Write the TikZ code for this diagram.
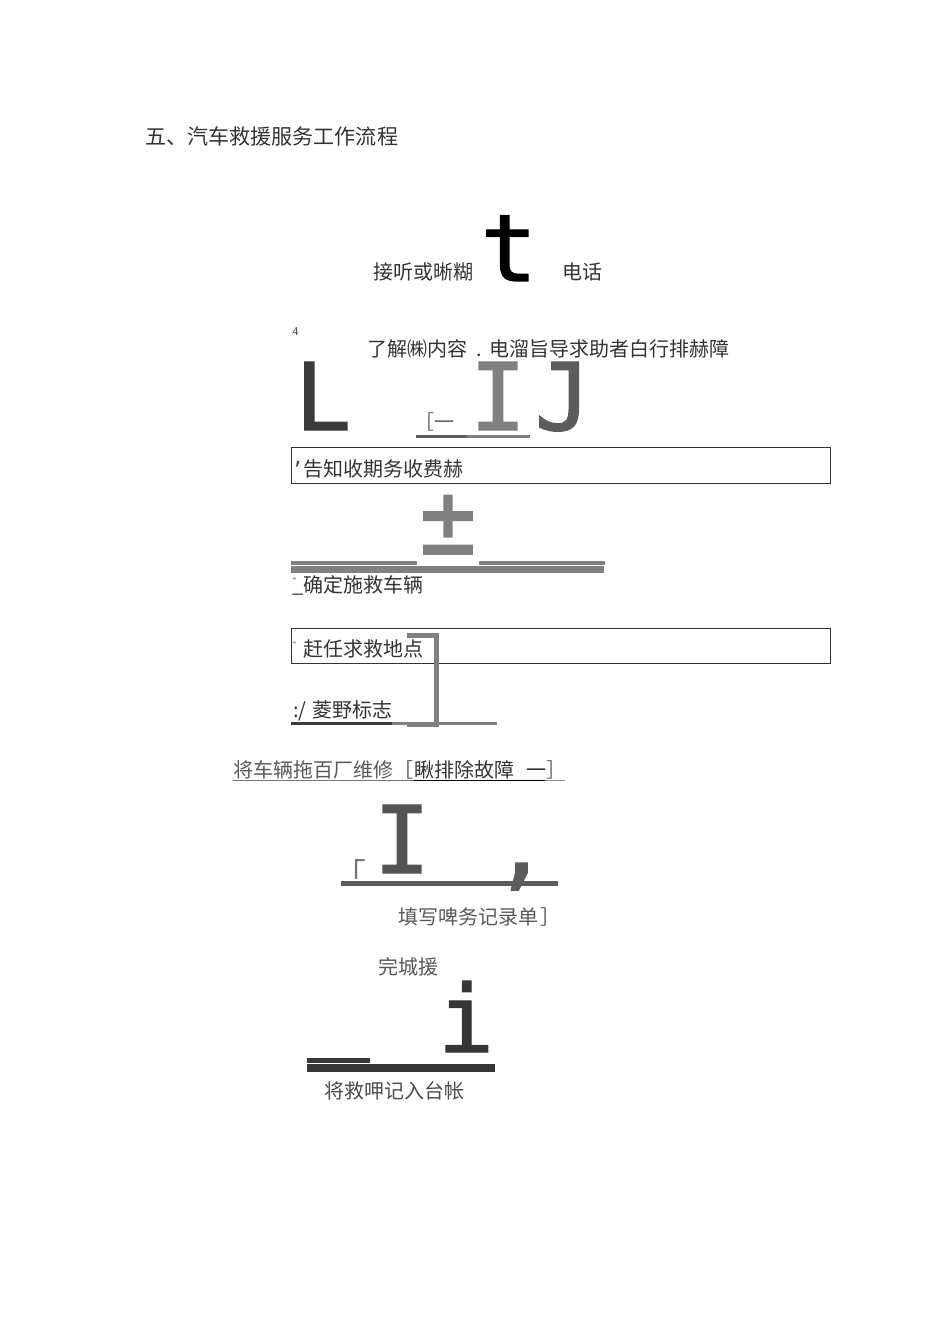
\documentclass[tikz,border=0pt]{standalone}
\usepackage{fontspec}
\setmainfont{Noto Sans CJK SC}
\newfontfamily\bigmono[FakeBold=1.5]{DejaVu Sans Mono}
\newfontfamily\markmono{DejaVu Sans Mono}
\definecolor{inkA}{gray}{0.23}
\definecolor{inkB}{gray}{0.50}
\definecolor{inkC}{gray}{0.36}
\definecolor{inkD}{gray}{0.21}
\tikzset{
	label text/.style={font=\fontsize{15}{15}\selectfont,anchor=base west,inner sep=0pt,text=#1},
	label text/.default=black!80,
	big glyph/.style={font=\bigmono\fontsize{70}{70}\selectfont,anchor=base,inner sep=0pt,text=#1},
	mark text/.style={font=\markmono\fontsize{8}{8}\selectfont,anchor=base west,inner sep=0pt,text=black!70},
	frame box/.style={draw=black!80,line width=0.75pt,minimum width=404.25pt,anchor=north west,inner sep=0pt}
}
\begin{document}
\begin{tikzpicture}[x=0.75pt,y=-0.75pt]
		\useasboundingbox (0,0) rectangle (950,1344);
		\node[label text,font=\fontsize{15.8}{15.8}\selectfont] (title) at (145,145) {五、汽车救援服务工作流程};
		% answering the call
		\node[label text] (answer) at (373,280) {接听或晰糊};
		\node[big glyph=black] (t-glyph) at (509,281) {t};
		\node[label text] (phone) at (562,280) {电话};
		% asking about the fault
		\node[mark text] (tick) at (292,335) {4};
		\node[label text] (ask) at (367,356) {了解㈱内容};
		\node[label text] (dot) at (476,356) {.};
		\node[label text] (advice) at (489,356) {电溜旨导求助者白行排赫障};
		\node[big glyph=inkA] (l-glyph) at (323,430) {L};
		\node[big glyph=inkB] (i-glyph) at (498,430) {I};
		\node[big glyph=inkC] (j-glyph) at (563,430) {J};
		\node[label text=black!60] (bracket) at (414,429) {［一};
		\fill[inkC] (416,435) rectangle (467,438);
		\fill[inkB] (467,435) rectangle (530,438);
		% fee notice
		\node[frame box,minimum height=27pt] (fee-box) at (291,447) {};
		\node[mark text,font=\markmono\fontsize{15}{15}\selectfont] (quote) at (291,476) {’};
		\node[label text] (fee) at (303,476) {告知收期务收费赫};
		\node[big glyph=inkB,transform shape,yscale=1.1] (pm-glyph) at (448,554) {±};
		\foreach \a/\b in {291/353,353/417,479/542,542/605}{
		\fill[inkB] (\a,561) rectangle (\b,565);
		}
		\fill[inkB] (291,566) rectangle (604,573);
		% choosing the vehicle
		\node[mark text] (hat-a) at (291,586) {ˆ};
		\node[label text,text height=1pt] (under) at (292,592) {\_};
		\node[label text] (vehicle) at (303,592) {确定施救车辆};
		% going to the site
		\node[frame box,minimum height=26.25pt] (site-box) at (291,628) {};
		\node[mark text] (hat-b) at (291,650) {ˆ};
		\node[label text] (site) at (303,656) {赶任求救地点};
		\draw[inkB,line width=3.75pt] (407,635) -- (436.5,635) -- (436.5,724) -- (407,724);
		\draw[inkB,line width=2.25pt] (392,723) -- (497,723);
		\draw[inkA,line width=2.25pt] (291,723) -- (392,723);
		\node[label text] (colon) at (293,717) {:/};
		\node[label text] (sign) at (312,717) {菱野标志};
		% towing or repair
		\node[label text=black!65] (tow) at (233,777) {将车辆拖百厂维修［};
		\node[label text] (repair) at (414,777) {瞅排除故障};
		\node[label text] (repair-end) at (526,777) {一};
		\node[label text=black!60] (repair-close) at (546,777) {］};
		\draw[black!55,line width=0.75pt] (233,780) -- (414,780);
		\draw[black,line width=0.75pt] (414,780) -- (545,780);
		\draw[black!45,line width=0.75pt] (545,780) -- (565,780);
		% service record
		\node[big glyph=inkC!90!black] (i2-glyph) at (402,873) {I};
		\node[label text=black!55,font=\fontsize{23}{23}\selectfont] (corner) at (335,885) {「};
		\fill[inkC] (341,881) rectangle (558,886);
		\node[big glyph=inkC] (comma-glyph) at (521,877) {,};
		\node[label text=black!65] (record) at (398,924) {填写啤务记录单};
		\node[label text=black!65] (record-close) at (540,924) {］};
		% finishing
		\node[label text=black!65] (done) at (378,974) {完城援};
		\node[big glyph=inkD] (i3-glyph) at (466,1052) {i};
		\fill[inkD] (307,1058) rectangle (370,1063);
		\fill[inkD] (307,1064) rectangle (495,1072);
		\node[label text=black!70] (ledger) at (324,1098) {将救呷记入台帐};
		\end{tikzpicture}
\end{document}
